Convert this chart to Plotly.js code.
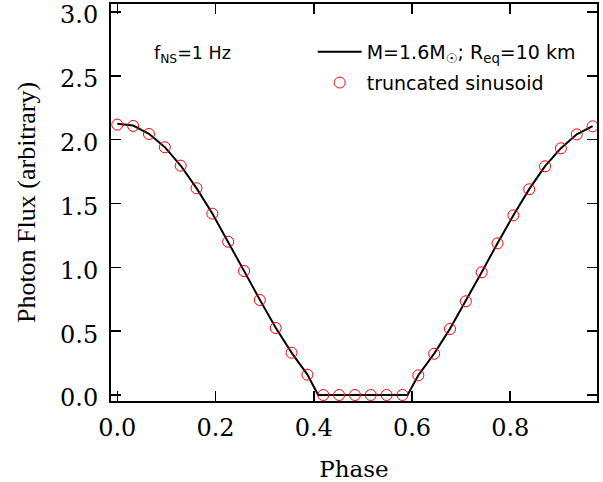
<!DOCTYPE html>
<html>
<head>
<meta charset="utf-8">
<script src="https://cdn.plot.ly/plotly-3.0.1.min.js"></script>
<style>html,body{margin:0;padding:0;background:#fff;}#chart{width:603px;height:482px;}</style>
</head>
<body>
<div id="chart"></div>
<script>
// Truncated sinusoid samples (phase = i/31)
const pointPhase = [0.0000,0.0323,0.0645,0.0968,0.1290,0.1613,0.1935,0.2258,0.2581,0.2903,
  0.3226,0.3548,0.3871,0.4194,0.4516,0.4839,0.5161,0.5484,0.5806,0.6129,
  0.6452,0.6774,0.7097,0.7419,0.7742,0.8065,0.8387,0.8710,0.9032,0.9355,0.9677];
const pointFlux = [2.117,2.107,2.044,1.940,1.796,1.619,1.420,1.200,0.971,0.744,
  0.525,0.331,0.159,0.000,0.000,0.000,0.000,0.000,0.000,0.154,
  0.323,0.517,0.734,0.961,1.188,1.407,1.611,1.791,1.932,2.041,2.104];

// Model light curve M=1.6 Msun, Req=10 km
const linePhase = [0.0000,0.0323,0.0645,0.0968,0.1290,0.1613,0.1935,0.2258,0.2581,0.2903,
  0.3226,0.3548,0.3871,0.4090,0.4194,0.4516,0.4839,0.5161,0.5484,0.5806,0.5910,0.6129,
  0.6452,0.6774,0.7097,0.7419,0.7742,0.8065,0.8387,0.8710,0.9032,0.9355,0.9677];
const lineFlux = [2.125,2.110,2.046,1.941,1.797,1.620,1.421,1.201,0.972,0.745,
  0.526,0.332,0.160,0.000,0.000,0.000,0.000,0.000,0.000,0.000,0.000,0.155,
  0.324,0.518,0.735,0.962,1.189,1.408,1.612,1.792,1.933,2.042,2.106];

const xTicks = [0, 0.2, 0.4, 0.6, 0.8];
const yTicks = [0, 0.5, 1.0, 1.5, 2.0, 2.5, 3.0];

const serif = 'DejaVu Serif, serif';
const sans = 'DejaVu Sans, sans-serif';

const traces = [
  {
    x: linePhase, y: lineFlux, type: 'scatter', mode: 'lines',
    name: 'M=1.6M<sub>☉</sub>; R<sub>eq</sub>=10 km',
    legendgroup: 'model',
    line: {color: '#000000', width: 2},
    hoverinfo: 'skip'
  },
  {
    x: pointPhase, y: pointFlux, type: 'scatter', mode: 'markers',
    name: 'truncated sinusoid',
    legendgroup: 'sin',
    marker: {symbol: 'circle-open', size: 11, color: '#ff0000', line: {width: 1, color: '#ff0000'}},
    cliponaxis: false
  }
];

const axisCommon = {
  showline: true, linewidth: 2, linecolor: '#000',
  ticks: 'inside', ticklen: 10, tickwidth: 1.5, tickcolor: '#000',
  mirror: 'ticks', showgrid: false, zeroline: false,
  tickfont: {family: serif, size: 24, color: '#000'},
  tickformat: '.1f', tickmode: 'array', ticklabeloverflow: 'allow'
};

const layout = {
  width: 603, height: 482,
  margin: {l: 111, r: 6, t: 4, b: 81, pad: 0},
  paper_bgcolor: '#fff', plot_bgcolor: '#fff',
  showlegend: true,
  legend: {
    x: 0.415, y: 0.927, xanchor: 'left', yanchor: 'top',
    bgcolor: 'rgba(0,0,0,0)', borderwidth: 0,
    font: {family: sans, size: 19, color: '#000'},
    tracegroupgap: 3, itemwidth: 44
  },
  xaxis: Object.assign({}, axisCommon, {
    range: [-0.0128, 0.9767],
    tickvals: xTicks,
    ticklabelstandoff: 4,
    title: {text: 'Phase', font: {family: serif, size: 23, color: '#000'}, standoff: 20}
  }),
  yaxis: Object.assign({}, axisCommon, {
    range: [-0.047, 3.062],
    tickvals: yTicks,
    ticklabelstandoff: 6,
    ticklabelshift: 3,
    title: {text: 'Photon Flux (arbitrary)', font: {family: 'Liberation Serif, serif', size: 26, color: '#000'}, standoff: 17}
  }),
  annotations: [{
    xref: 'paper', yref: 'paper', x: 0.085, y: 0.872,
    xanchor: 'left', yanchor: 'middle', showarrow: false,
    text: 'f<sub>NS</sub>=1 Hz',
    font: {family: sans, size: 17.5, color: '#000'}
  }]
};

Plotly.newPlot('chart', traces, layout, {staticPlot: true, displayModeBar: false});
</script>
</body>
</html>
